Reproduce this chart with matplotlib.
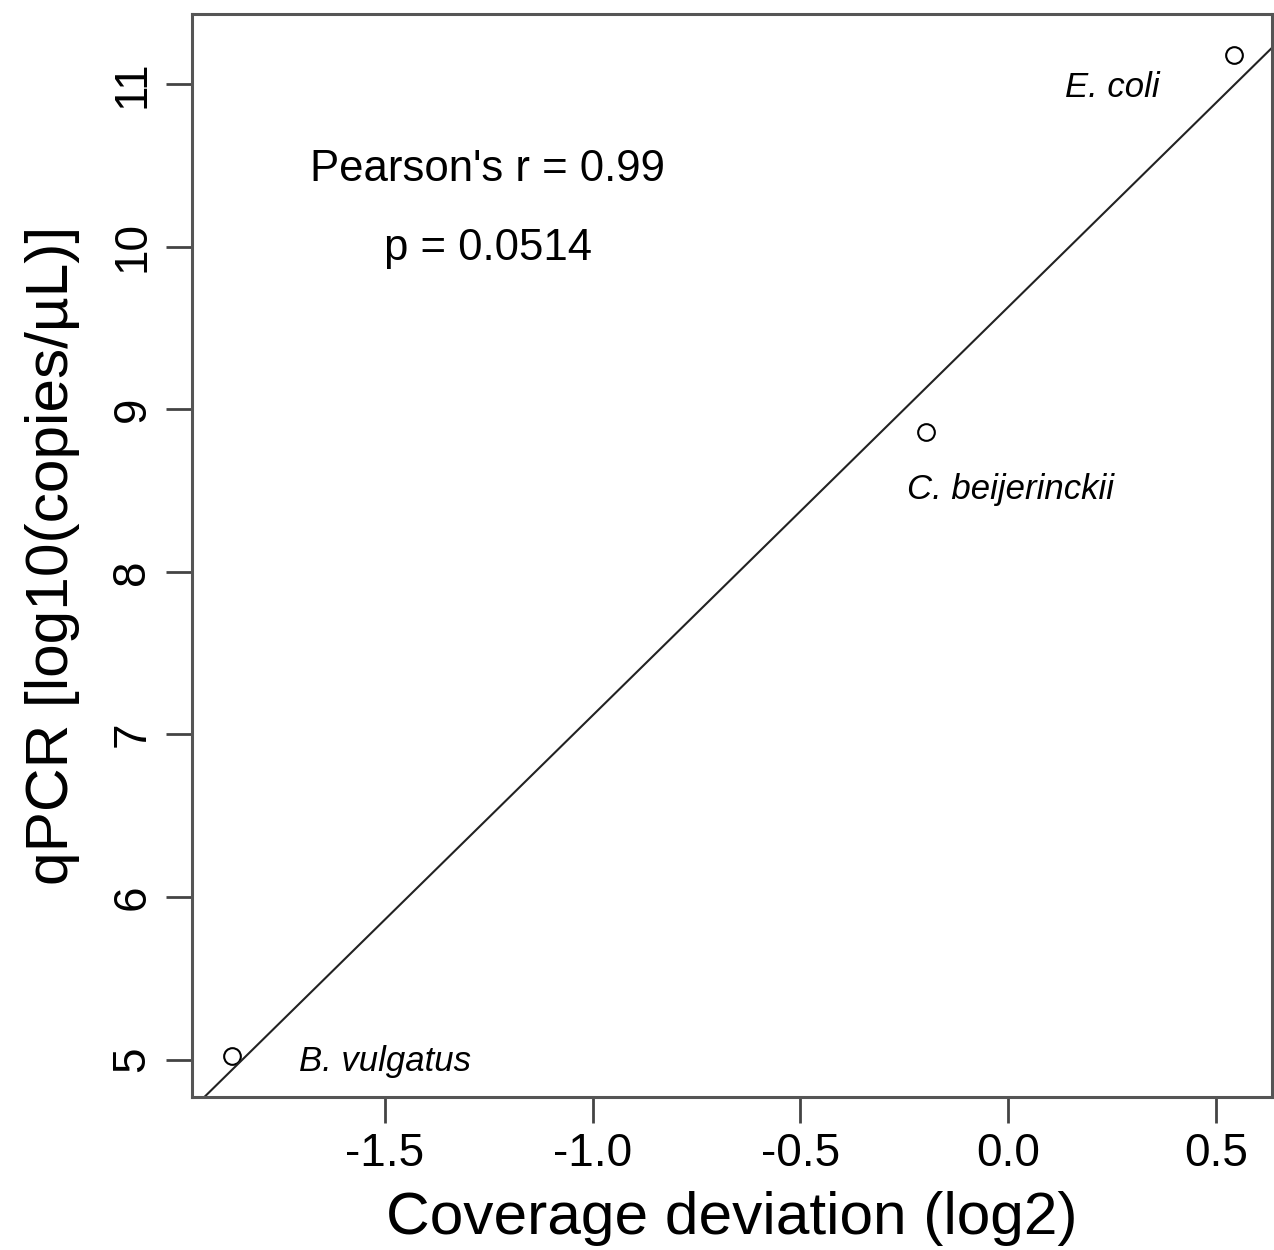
import numpy as np
import matplotlib
matplotlib.use("Agg")
import matplotlib.pyplot as plt

plt.rcParams['font.family'] = ['Liberation Sans', 'DejaVu Sans']

# data
species = ["B. vulgatus", "C. beijerinckii", "E. coli"]
coverage_dev = np.array([-1.868, -0.197, 0.543])
qpcr = np.array([5.02, 8.86, 11.18])
label_x = [-1.50, 0.005, 0.25]
label_y = [4.93, 8.45, 10.92]

xticks = [-1.5, -1.0, -0.5, 0.0, 0.5]
xticklabels = ["-1.5", "-1.0", "-0.5", "0.0", "0.5"]
yticks = [5, 6, 7, 8, 9, 10, 11]

fig = plt.figure(figsize=(12.74, 12.5), dpi=100)
ax = fig.add_axes([0.1507, 0.1224, 0.8477, 0.8664])

ax.plot(coverage_dev, qpcr, 'o', mfc='none', mec='black', ms=12, mew=1.5)

# least squares fit line across the whole plot (abline)
slope, icpt = np.polyfit(coverage_dev, qpcr, 1)
xlim = (-1.964, 0.635)
xs = np.array(xlim)
ax.plot(xs, icpt + slope * xs, color='#222222', lw=1.5)

for s, lx, ly in zip(species, label_x, label_y):
    ax.text(lx, ly, s, fontstyle='italic', fontsize=25, ha='center', va='baseline')

ax.text(-1.252, 10.40, "Pearson's r = 0.99", fontsize=31.5, ha='center', va='baseline')
ax.text(-1.252, 9.92, "p = 0.0514", fontsize=31.5, ha='center', va='baseline')

ax.set_xlim(*xlim)
ax.set_ylim(4.77, 11.43)
ax.set_xticks(xticks)
ax.set_xticklabels(xticklabels)
ax.set_yticks(yticks)
ax.set_yticklabels([str(v) for v in yticks], rotation=90, va='center')
ax.tick_params(axis='both', labelsize=33, length=19, width=2, color='#444444')
ax.tick_params(axis='x', pad=6)
ax.tick_params(axis='y', pad=8)
for sp in ax.spines.values():
    sp.set_color('#555555')
    sp.set_linewidth(2.2)

ax.set_xlabel("Coverage deviation (log2)", fontsize=43.5, labelpad=11)
ax.set_ylabel("qPCR [log10(copies/µL)]", fontsize=43.5, labelpad=22)

fig.savefig("out.png", dpi=100)
